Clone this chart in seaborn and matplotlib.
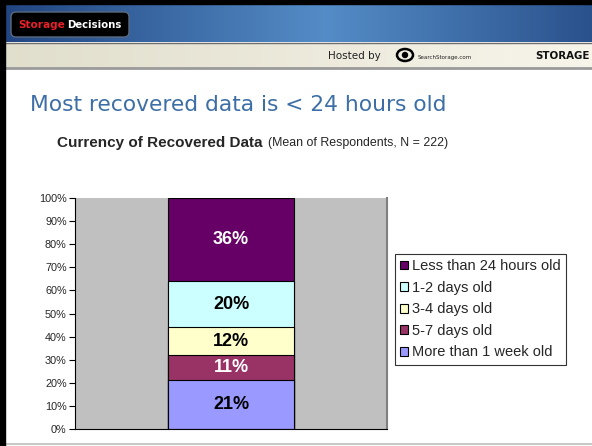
import numpy as np
import pandas as pd
import matplotlib
matplotlib.use('Agg')
import matplotlib.pyplot as plt
import seaborn as sns
from matplotlib.patches import Rectangle, FancyBboxPatch, Ellipse, Circle
from matplotlib.lines import Line2D

# data, bottom segment first
categories = ['More than 1 week old', '5-7 days old', '3-4 days old', '1-2 days old', 'Less than 24 hours old']
shares = [21, 11, 12, 20, 36]
colors = ['#9999FF', '#993366', '#FFFFCC', '#CCFFFF', '#660066']
label_colors = ['black', 'white', 'black', 'black', 'white']
ticks = list(range(0, 101, 10))

sns.set_style('white')
plt.rcParams['font.family'] = ['Liberation Sans', 'DejaVu Sans']

fig = plt.figure(figsize=(5.92, 4.46), dpi=100)

# ---- slide decoration ----
W, H = 592, 446
def fx(px):
    return px / W
def fy(py):
    return 1 - py / H

deco = fig.add_axes([0, 0, 1, 1], zorder=0)
deco.set_xlim(0, W)
deco.set_ylim(H, 0)
deco.axis('off')

# blue header band with horizontal gradient
grad = np.linspace(0, 1, 256)
prof = np.clip(1 - np.abs(grad - 0.55) / 0.55, 0, 1)
c_dark = np.array([0.13, 0.27, 0.50])
c_light = np.array([0.33, 0.55, 0.78])
band = c_dark[None, :] + (c_light - c_dark)[None, :] * prof[:, None]
deco.imshow(band[None, :, :], extent=[0, W, 42, 4], aspect='auto', zorder=1)
deco.add_patch(Rectangle((0, 0), W, 4, color='black', zorder=2))
# beige band
beige = np.linspace(0, 1, 256)
b1 = np.array([0.88, 0.87, 0.80])
b2 = np.array([0.97, 0.96, 0.92])
bband = b1[None, :] + (b2 - b1)[None, :] * beige[:, None]
deco.imshow(bband[None, :, :], extent=[0, W, 68, 43], aspect='auto', zorder=1)
deco.add_line(Line2D([0, W], [43, 43], color='#6e6e6e', lw=1, zorder=2))
deco.add_line(Line2D([0, W], [68, 68], color='#9a9a9a', lw=2, zorder=2))
# left border and bottom line
deco.add_patch(Rectangle((0, 0), 5, H, color='black', zorder=3))
deco.add_line(Line2D([5, W], [444, 444], color='#c8c8c8', lw=1.5, zorder=2))

# logo box
deco.add_patch(FancyBboxPatch((11, 12), 118, 25, boxstyle='round,pad=0,rounding_size=5',
                              facecolor='black', edgecolor='#5a6a80', lw=1, zorder=3))
deco.text(18, 24.5, 'Storage', color='#e8202a', fontsize=7.6, fontweight='bold',
          family=['DejaVu Sans'], va='center', ha='left', zorder=4)
deco.text(121, 24.5, 'Decisions', color='white', fontsize=7.3, fontweight='bold',
          family=['DejaVu Sans'], va='center', ha='right', zorder=4)

# hosted by line
deco.text(328, 56, 'Hosted by', fontsize=7.5, color='#222222', va='center', ha='left',
          family=['DejaVu Sans'], zorder=4)
deco.add_patch(Ellipse((405, 55), 16, 12, facecolor='none', edgecolor='black', lw=1.8, zorder=4))
deco.add_patch(Circle((405, 55), 2.5, color='black', zorder=4))
deco.text(418, 57, 'SearchStorage.com', fontsize=4, color='#222222', va='center', ha='left',
          family=['DejaVu Sans'], zorder=4)
deco.text(590, 56, 'STORAGE', fontsize=7.4, fontweight='bold', color='#111111', va='center',
          ha='right', family=['DejaVu Sans'], zorder=4)

# slide title
fig.text(fx(30), fy(105), 'Most recovered data is < 24 hours old', color='#3d6fa6',
         fontsize=15.7, family=['DejaVu Sans'], va='center', ha='left')
fig.text(fx(57), fy(143), 'Currency of Recovered Data', fontsize=11, fontweight='bold',
         va='center', ha='left')
fig.text(fx(268), fy(143), '(Mean of Respondents, N = 222)', fontsize=8.9,
         va='center', ha='left')

# ---- chart ----
ax = fig.add_axes([fx(75), fy(429), fx(387) - fx(75), fy(198) - fy(429)], zorder=2)
ax.set_facecolor('#C0C0C0')

df = pd.DataFrame({'category': categories, 'share': shares})
df['top'] = np.cumsum(df['share'])
df['x'] = 'all'

# draw cumulative bars from the tallest down so they overlap as a stack
for i in range(len(df) - 1, -1, -1):
    row = df.iloc[[i]]
    sns.barplot(data=row, x='x', y='top', color=colors[i], width=0.405,
                edgecolor='black', linewidth=0.8, ax=ax, saturation=1)

for i, row in df.iterrows():
    mid = row['top'] - row['share'] / 2
    ax.text(0, mid, f"{row['share']}%", color=label_colors[i], fontsize=13,
            fontweight='bold', ha='center', va='center')

ax.set_xlim(-0.5, 0.5)
ax.set_ylim(0, 100)
ax.set_yticks(ticks)
ax.set_yticklabels([f'{t}%' for t in ticks], fontsize=7.8)
ax.set_xticks([])
ax.set_xlabel('')
ax.set_ylabel('')
ax.tick_params(axis='y', direction='out', length=4, width=0.8, color='black', pad=2, left=True)
ax.spines['right'].set_color('#808080')
ax.spines['right'].set_linewidth(1.5)
for s in ['left', 'bottom']:
    ax.spines[s].set_color('black')
    ax.spines[s].set_linewidth(0.8)
ax.spines['top'].set_visible(False)

# legend, top category first
handles = [Rectangle((0, 0), 1, 1, facecolor=colors[i], edgecolor='black', lw=0.8)
           for i in range(len(categories) - 1, -1, -1)]
labels = [categories[i] for i in range(len(categories) - 1, -1, -1)]
leg = fig.legend(handles, labels, loc='upper left', bbox_to_anchor=(fx(395), fy(254)),
                 fontsize=10.5, frameon=True, fancybox=False, edgecolor='black',
                 handlelength=0.55, handleheight=0.55, handletextpad=0.3,
                 labelspacing=0.52, borderpad=0.35, borderaxespad=0)
leg.get_frame().set_linewidth(0.8)

fig.savefig('out.png', dpi=100)
